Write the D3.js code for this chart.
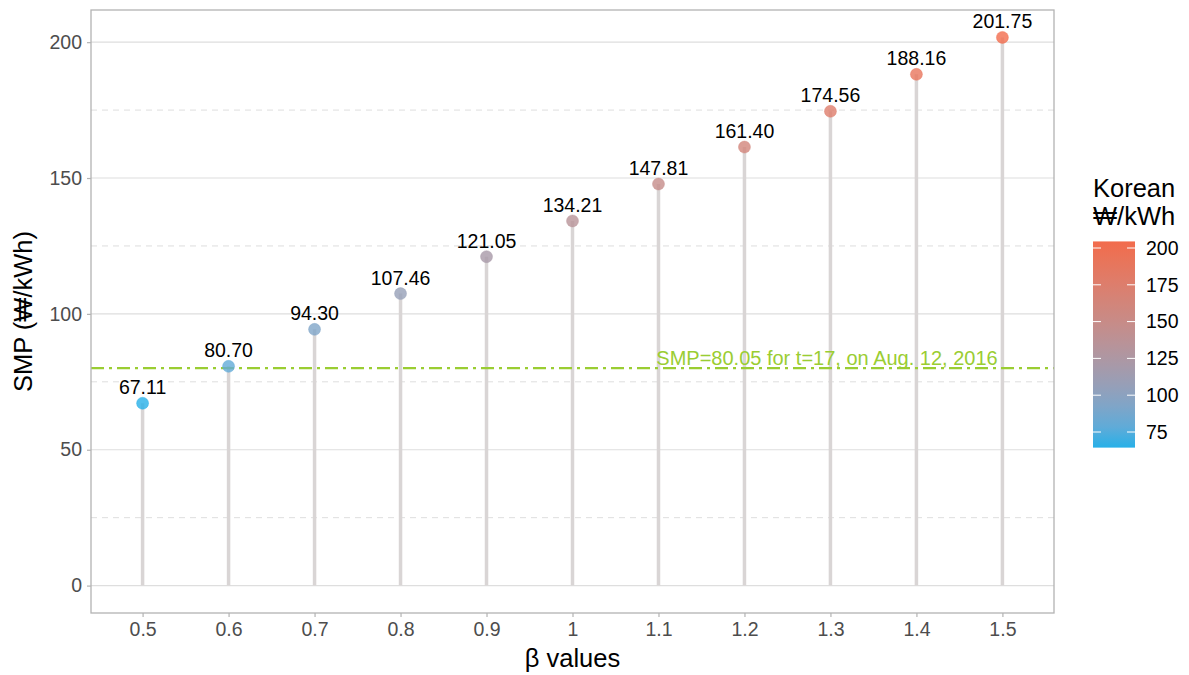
<!DOCTYPE html>
<html><head><meta charset="utf-8">
<script src="https://cdn.jsdelivr.net/npm/d3@7"></script>
<style>body{margin:0;background:#fff;font-family:"Liberation Sans",Arial,sans-serif;}</style>
</head><body><svg id="c" width="1189" height="675"></svg>
<script>
const betaLabels = ["0.5","0.6","0.7","0.8","0.9","1","1.1","1.2","1.3","1.4","1.5"];
const smpValues = [67.11,80.70,94.30,107.46,121.05,134.21,147.81,161.40,174.56,188.16,201.75];
const yMajorTicks = [0,50,100,150,200];
const yMinorTicks = [25,75,125,175];
const legendTicks = [75,100,125,150,175,200];
const refValue = 80.05;
const refLabel = "SMP=80.05 for t=17, on Aug. 12, 2016";

const svg = d3.select("#c");
const L = 91, R = 1054, T = 10, B = 613;
const font = "'Liberation Sans', Arial, sans-serif";
const fsTick = 19.5, fsTitle = 25.5;

const x = d3.scalePoint().domain(betaLabels).range([L, R]).padding(0.6);
const lo = 0, hi = d3.max(smpValues);
const pad = (hi - lo) * 0.05;
const y = d3.scaleLinear().domain([lo - pad, hi + pad]).range([B, T]);
const cmin = d3.min(smpValues), cmax = d3.max(smpValues);
const color = d3.scaleLinear().domain([cmin, cmax]).range(["#27B0E8", "#F26B4C"]).interpolate(d3.interpolateLab);

// grid
svg.append("g").selectAll("line").data(yMinorTicks).join("line")
  .attr("x1", L).attr("x2", R).attr("y1", d => y(d)).attr("y2", d => y(d))
  .attr("stroke", "#dedede").attr("stroke-width", 1).attr("stroke-dasharray", "6,5");
svg.append("g").selectAll("line").data(yMajorTicks).join("line")
  .attr("x1", L).attr("x2", R).attr("y1", d => y(d)).attr("y2", d => y(d))
  .attr("stroke", "#dedede").attr("stroke-width", 1.2);

// segments
svg.append("g").selectAll("line").data(smpValues).join("line")
  .attr("x1", (d, i) => x(betaLabels[i])).attr("x2", (d, i) => x(betaLabels[i]))
  .attr("y1", y(0)).attr("y2", d => y(d))
  .attr("stroke", "#d9d5d5").attr("stroke-width", 3.5);

// reference line
svg.append("line").attr("x1", L).attr("x2", R).attr("y1", y(refValue)).attr("y2", y(refValue))
  .attr("stroke", "#9ACD32").attr("stroke-width", 2.2).attr("stroke-dasharray", "13,5,3,5");
svg.append("text").attr("x", 827).attr("y", y(refValue) - 3).attr("text-anchor", "middle")
  .attr("font-family", font).attr("font-size", 20).attr("fill", "#9ACD32").text(refLabel);

// points
svg.append("g").selectAll("circle").data(smpValues).join("circle")
  .attr("cx", (d, i) => x(betaLabels[i])).attr("cy", d => y(d)).attr("r", 6)
  .attr("fill", d => color(d)).attr("fill-opacity", 0.8)
  .attr("stroke", d => color(d)).attr("stroke-opacity", 0.8).attr("stroke-width", 0.5);

// value labels
svg.append("g").selectAll("text").data(smpValues).join("text")
  .attr("x", (d, i) => x(betaLabels[i])).attr("y", d => y(d) - 9)
  .attr("text-anchor", "middle").attr("font-family", font).attr("font-size", 19.5).attr("fill", "#000")
  .text(d => d.toFixed(2));

// panel border
svg.append("rect").attr("x", L).attr("y", T).attr("width", R - L).attr("height", B - T)
  .attr("fill", "none").attr("stroke", "#b3b3b3").attr("stroke-width", 1.3);

// axes
const yAxis = svg.append("g").attr("transform", `translate(${L},0)`)
  .call(d3.axisLeft(y).tickValues(yMajorTicks).tickSize(4).tickPadding(5));
const xAxis = svg.append("g").attr("transform", `translate(0,${B})`)
  .call(d3.axisBottom(x).tickSize(4).tickPadding(5));
[yAxis, xAxis].forEach(g => {
  g.select(".domain").remove();
  g.selectAll(".tick line").attr("stroke", "#b3b3b3").attr("stroke-width", 1.2);
  g.selectAll(".tick text").attr("font-family", font).attr("font-size", fsTick).attr("fill", "#4d4d4d");
});

// axis titles
svg.append("text").attr("x", (L + R) / 2).attr("y", 667).attr("text-anchor", "middle")
  .attr("font-family", font).attr("font-size", fsTitle).attr("fill", "#000").text("β values");
svg.append("text").attr("transform", `translate(32,${(T + B) / 2}) rotate(-90)`).attr("text-anchor", "middle")
  .attr("font-family", font).attr("font-size", fsTitle).attr("fill", "#000").text("SMP (₩/kWh)");

// legend
const lgX = 1093, lgW = 42;
const ly = d3.scaleLinear().domain([75, 200]).range([432, 248]);
const defs = svg.append("defs");
const grad = defs.append("linearGradient").attr("id", "lg").attr("x1", 0).attr("x2", 0).attr("y1", 1).attr("y2", 0);
d3.range(0, 1.0001, 0.1).forEach(t => {
  const v = cmin + t * (cmax - cmin);
  grad.append("stop").attr("offset", t).attr("stop-color", color(v));
});
const barTop = ly(cmax) - 4, barBot = ly(cmin) + 4;
svg.append("rect").attr("x", lgX).attr("y", barTop).attr("width", lgW).attr("height", barBot - barTop)
  .attr("fill", "url(#lg)");
const lt = svg.append("g");
lt.selectAll("line.l").data(legendTicks).join("line").attr("class", "l")
  .attr("x1", lgX).attr("x2", lgX + 8).attr("y1", d => ly(d)).attr("y2", d => ly(d))
  .attr("stroke", "#fff").attr("stroke-width", 1);
lt.selectAll("line.r").data(legendTicks).join("line").attr("class", "r")
  .attr("x1", lgX + lgW - 8).attr("x2", lgX + lgW).attr("y1", d => ly(d)).attr("y2", d => ly(d))
  .attr("stroke", "#fff").attr("stroke-width", 1);
lt.selectAll("text").data(legendTicks).join("text")
  .attr("x", lgX + lgW + 11).attr("y", d => ly(d)).attr("dy", "0.35em")
  .attr("font-family", font).attr("font-size", fsTick).attr("fill", "#000").text(d => d);
svg.append("text").attr("x", lgX).attr("y", 197).attr("font-family", font).attr("font-size", fsTitle).text("Korean");
svg.append("text").attr("x", lgX).attr("y", 225).attr("font-family", font).attr("font-size", fsTitle).text("₩/kWh");
</script></body></html>
